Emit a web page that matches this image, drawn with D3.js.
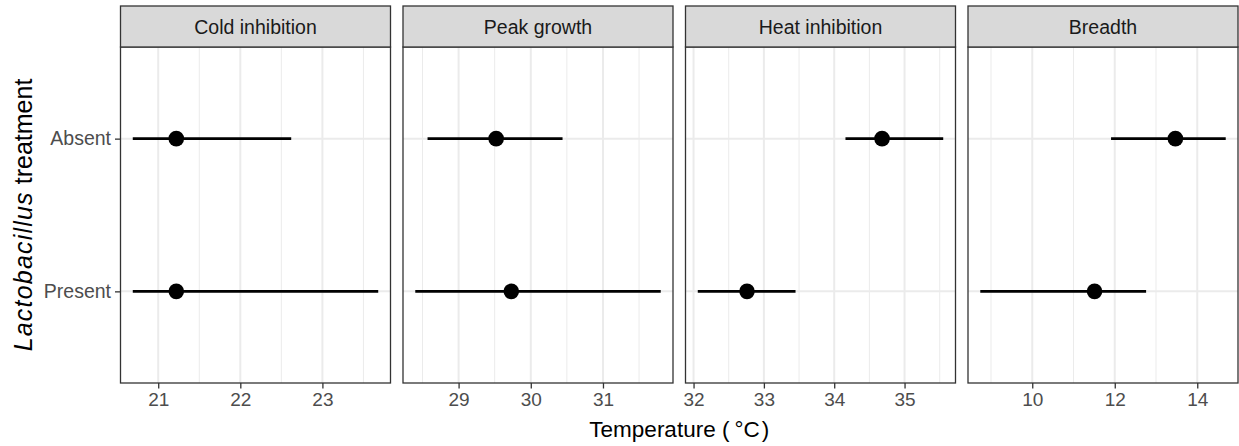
<!DOCTYPE html>
<html>
<head>
<meta charset="utf-8">
<script src="https://cdn.jsdelivr.net/npm/d3@7"></script>
<style>
  body { margin: 0; background: #fff; }
  svg text { font-family: "Liberation Sans", Arial, sans-serif; }
</style>
</head>
<body>
<div id="chart"></div>
<script>
(function () {
	"use strict";

	var WIDTH = 1239;
	var HEIGHT = 446;

	// facet panels and the two treatment levels
	var panels = ['Cold inhibition', 'Peak growth', 'Heat inhibition', 'Breadth'];
	var treatments = ['Absent', 'Present'];

	// estimates and interval ends, one value per panel
	var estAbsent = [21.22, 29.52, 34.68, 13.47];
	var lowAbsent = [20.69, 28.57, 34.16, 11.91];
	var highAbsent = [22.62, 30.44, 35.55, 14.69];
	var estPresent = [21.22, 29.73, 32.76, 11.51];
	var lowPresent = [20.69, 28.40, 32.06, 8.74];
	var highPresent = [23.68, 31.80, 33.45, 12.76];

	var tickValues = [[21, 22, 23], [29, 30, 31], [32, 33, 34, 35], [10, 12, 14]];

	var PANEL_LEFT = 120.5;
	var PANEL_RIGHT = 1238;
	var PANEL_GAP = 12.5;
	var PANEL_WIDTH = (PANEL_RIGHT - PANEL_LEFT - 3 * PANEL_GAP) / 4;
	var STRIP_TOP = 6;
	var PANEL_TOP = 47;
	var PANEL_BOTTOM = 383;

	var svg = d3.select('#chart').append('svg')
		.attr('width', WIDTH)
		.attr('height', HEIGHT);

	var y = d3.scalePoint()
		.domain(treatments)
		.range([PANEL_TOP, PANEL_BOTTOM])
		.padding(0.6);

	panels.forEach(function (name, i) {
		var rows = [
			{ treatment: 'Absent', est: estAbsent[i], low: lowAbsent[i], high: highAbsent[i] },
			{ treatment: 'Present', est: estPresent[i], low: lowPresent[i], high: highPresent[i] }
		];
		var lo = d3.min(rows, function (d) { return d.low; });
		var hi = d3.max(rows, function (d) { return d.high; });
		var pad = (hi - lo) * 0.05;
		var left = PANEL_LEFT + i * (PANEL_WIDTH + PANEL_GAP);

		var x = d3.scaleLinear()
			.domain([lo - pad, hi + pad])
			.range([left, left + PANEL_WIDTH]);

		var ticks = tickValues[i];
		var half = (ticks[1] - ticks[0]) / 2;
		var minor = d3.range(Math.ceil(x.domain()[0] / half), Math.floor(x.domain()[1] / half) + 1)
			.map(function (k) { return k * half; })
			.filter(function (v) { return ticks.indexOf(v) < 0; });

		var g = svg.append('g').classed('panel', true);

		g.append('rect')
			.attr('x', left).attr('y', PANEL_TOP)
			.attr('width', PANEL_WIDTH).attr('height', PANEL_BOTTOM - PANEL_TOP)
			.attr('fill', 'white');

		g.selectAll('.minor').data(minor).enter().append('line')
			.attr('x1', x).attr('x2', x)
			.attr('y1', PANEL_TOP).attr('y2', PANEL_BOTTOM)
			.attr('stroke', '#ebebeb').attr('stroke-width', 1);

		g.selectAll('.major').data(ticks).enter().append('line')
			.attr('x1', x).attr('x2', x)
			.attr('y1', PANEL_TOP).attr('y2', PANEL_BOTTOM)
			.attr('stroke', '#ebebeb').attr('stroke-width', 2);

		g.selectAll('.hgrid').data(treatments).enter().append('line')
			.attr('x1', left).attr('x2', left + PANEL_WIDTH)
			.attr('y1', y).attr('y2', y)
			.attr('stroke', '#ebebeb').attr('stroke-width', 2);

		g.selectAll('.range').data(rows).enter().append('line')
			.attr('x1', function (d) { return x(d.low); })
			.attr('x2', function (d) { return x(d.high); })
			.attr('y1', function (d) { return y(d.treatment); })
			.attr('y2', function (d) { return y(d.treatment); })
			.attr('stroke', 'black').attr('stroke-width', 2.6);

		g.selectAll('.est').data(rows).enter().append('circle')
			.attr('cx', function (d) { return x(d.est); })
			.attr('cy', function (d) { return y(d.treatment); })
			.attr('r', 7.8)
			.attr('fill', 'black');

		g.append('rect')
			.attr('x', left).attr('y', PANEL_TOP)
			.attr('width', PANEL_WIDTH).attr('height', PANEL_BOTTOM - PANEL_TOP)
			.attr('fill', 'none').attr('stroke', '#333333').attr('stroke-width', 1.3);

		// facet strip
		g.append('rect')
			.attr('x', left).attr('y', STRIP_TOP)
			.attr('width', PANEL_WIDTH).attr('height', PANEL_TOP - STRIP_TOP)
			.attr('fill', '#d9d9d9').attr('stroke', '#333333').attr('stroke-width', 1.3);
		g.append('text')
			.attr('x', left + PANEL_WIDTH / 2).attr('y', (STRIP_TOP + PANEL_TOP) / 2 + 7)
			.attr('text-anchor', 'middle')
			.attr('font-size', 19.5)
			.attr('fill', '#1a1a1a')
			.text(name);

		var axis = d3.axisBottom(x).tickValues(ticks).tickSize(5.5).tickPadding(4).tickFormat(d3.format('d'));
		var ax = g.append('g')
			.attr('transform', 'translate(0,' + PANEL_BOTTOM + ')')
			.call(axis);
		ax.select('.domain').remove();
		ax.selectAll('.tick line').attr('stroke', '#333333').attr('stroke-width', 1.3);
		ax.selectAll('.tick text')
			.attr('font-size', 19).attr('fill', '#4d4d4d')
			.attr('font-family', '"Liberation Sans", Arial, sans-serif');
	});

	var yAxis = svg.append('g')
		.attr('transform', 'translate(' + PANEL_LEFT + ',0)')
		.call(d3.axisLeft(y).tickSize(5.5).tickPadding(4));
	yAxis.select('.domain').remove();
	yAxis.selectAll('.tick line').attr('stroke', '#333333').attr('stroke-width', 1.3);
	yAxis.selectAll('.tick text')
		.attr('font-size', 19.5).attr('fill', '#4d4d4d')
		.attr('font-family', '"Liberation Sans", Arial, sans-serif');

	var xTitle = svg.append('text')
		.attr('x', (PANEL_LEFT + PANEL_RIGHT) / 2).attr('y', 437)
		.attr('text-anchor', 'middle')
		.attr('font-size', 22.5)
		.attr('fill', 'black');
	xTitle.append('tspan').text('Temperature (');
	xTitle.append('tspan').attr('dx', 5).text('\u00B0C');
	xTitle.append('tspan').attr('dx', 2).text(')');

	var yTitle = svg.append('text')
		.attr('transform', 'translate(32,' + ((PANEL_TOP + PANEL_BOTTOM) / 2) + ') rotate(-90)')
		.attr('text-anchor', 'middle')
		.attr('font-size', 25)
		.attr('fill', 'black');
	yTitle.append('tspan').attr('font-style', 'italic').attr('letter-spacing', 1.2).text('Lactobacillus');
	yTitle.append('tspan').text(' treatment');
}());
</script>
</body>
</html>
